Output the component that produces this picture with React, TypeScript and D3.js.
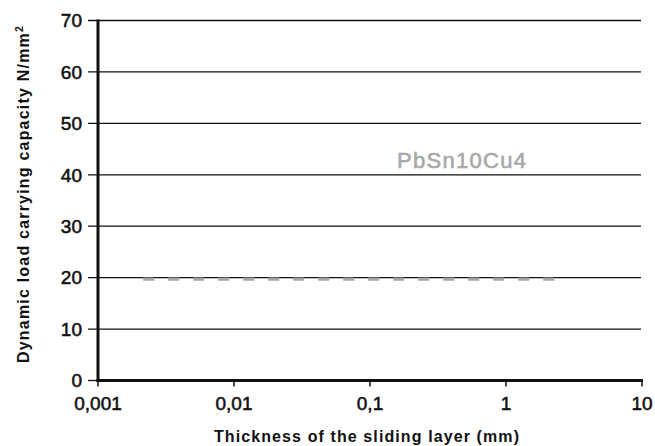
import React from "react";
import * as d3 from "d3";

const xTicks = [0.001, 0.01, 0.1, 1, 10];
const xTickLabels = ["0,001", "0,01", "0,1", "1", "10"];
const yTicks = [0, 10, 20, 30, 40, 50, 60, 70];
const seriesName = "PbSn10Cu4";
const seriesX = [0.00215, 2.35];
const seriesY = [19.7, 19.7];

const W = 655;
const H = 446;

export default function App() {
  const x = d3.scaleLog().domain([0.001, 10]).range([98, 642]);
  const y = d3.scaleLinear().domain([0, 70]).range([380.5, 20.5]);
  const line = d3
    .line<number>()
    .x((d, i) => x(seriesX[i]))
    .y((d) => y(d));
  const font = "'Liberation Sans', Arial, Helvetica, sans-serif";
  return (
    <svg
      width={W}
      height={H}
      style={{ position: "absolute", left: 0, top: 0, background: "#fff" }}
      fontFamily={font}
    >
      {yTicks.map((t) => (
        <g key={t}>
          <line x1={88} x2={t > 0 ? 641 : 98} y1={y(t)} y2={y(t)} stroke="#111" strokeWidth={1.3} />
          <text
            x={82}
            y={y(t) + 6.8}
            textAnchor="end"
            fontSize={19}
            fill="#111"
            stroke="#111"
            strokeWidth={0.55}
          >
            {t}
          </text>
        </g>
      ))}
      <path
        d={line(seriesY) || ""}
        stroke="#a6a6a6"
        strokeWidth={3.2}
        fill="none"
        strokeDasharray="11 14"
      />
      <text
        x={397}
        y={168}
        fontSize={22}
        fill="#a8a8a8"
        stroke="#a8a8a8"
        strokeWidth={0.6}
        letterSpacing={1.3}
      >
        {seriesName}
      </text>
      <line x1={98} x2={98} y1={y(70) - 1} y2={y(0) + 1.5} stroke="#111" strokeWidth={3} />
      <line x1={96.5} x2={643} y1={y(0)} y2={y(0)} stroke="#111" strokeWidth={3} />
      {xTicks.map((t, i) => (
        <g key={t}>
          <line x1={x(t)} x2={x(t)} y1={y(0)} y2={y(0) + 6} stroke="#111" strokeWidth={1.5} />
          <text
            x={x(t)}
            y={410}
            textAnchor="middle"
            fontSize={19}
            fill="#111"
            stroke="#111"
            strokeWidth={0.55}
          >
            {xTickLabels[i]}
          </text>
        </g>
      ))}
      <text
        x={367}
        y={441.5}
        textAnchor="middle"
        fontSize={16}
        fontWeight="bold"
        fill="#111"
        letterSpacing={1.1}
      >
        Thickness of the sliding layer (mm)
      </text>
      <text
        transform={`translate(29,194) rotate(-90)`}
        textAnchor="middle"
        fontSize={16}
        fontWeight="bold"
        fill="#111"
        letterSpacing={1.2}
      >
        Dynamic load carrying capacity N/mm
        <tspan fontSize={10.5} dy={-6}>2</tspan>
      </text>
    </svg>
  );
}
